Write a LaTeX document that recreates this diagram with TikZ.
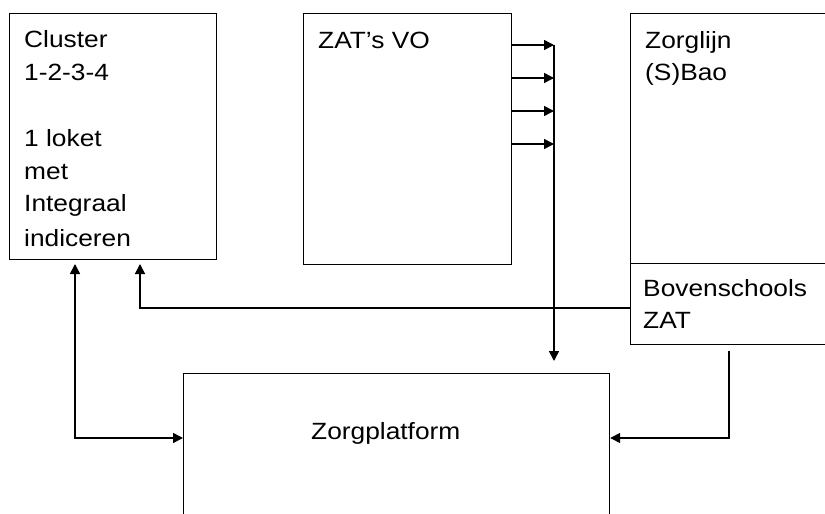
\documentclass[tikz,border=0pt]{standalone}
\usepackage{fontspec}
\setmainfont{Liberation Sans}[FakeStretch=1.12]
\usetikzlibrary{arrows.meta}
\begin{document}
\begin{tikzpicture}[x=1pt,y=-1pt,
  box/.style={draw, line width=1.2pt, inner sep=0pt, anchor=north west},
  lbl/.style={anchor=base west, inner sep=0pt, font=\fontsize{23.5}{28}\selectfont},
  arr/.style={line width=1.5pt, -{Triangle[length=10pt,width=10pt]}},
  arrboth/.style={line width=1.5pt, {Triangle[length=10pt,width=10pt]}-{Triangle[length=10pt,width=10pt]}}]
\useasboundingbox (0,0) rectangle (825,514);
\clip (0,0) rectangle (825,514);
% boxes
\node[box, minimum width=207pt, minimum height=246pt] (cluster) at (9,13) {};
\node[box, minimum width=208pt, minimum height=251pt] (zat) at (303,13) {};
\node[box, minimum width=205pt, minimum height=250pt] (zorg) at (630,13) {};
\node[box, minimum width=205pt, minimum height=81pt] (bov) at (630,263) {};
\node[box, minimum width=426pt, minimum height=160pt] (plat) at (183,373) {};
% texts
\node[lbl] (t1) at (24,47) {Cluster};
\node[lbl] (t2) at (24,80) {1-2-3-4};
\node[lbl] (t3) at (24,146) {1 loket};
\node[lbl] (t4) at (24,179) {met};
\node[lbl] (t5) at (24,211) {Integraal};
\node[lbl] (t6) at (24,246) {indiceren};
\node[lbl] (t7) at (318,48) {ZAT’s VO};
\node[lbl] (t8) at (645,48) {Zorglijn};
\node[lbl] (t9) at (645,80) {(S)Bao};
\node[lbl] (t10) at (643,296) {Bovenschools};
\node[lbl] (t11) at (643,328) {ZAT};
\node[lbl] (t12) at (311,439) {Zorgplatform};
% coordinates
\coordinate (b1) at (554,45);
\coordinate (b2) at (554,78);
\coordinate (b3) at (554,111);
\coordinate (b4) at (554,144);
\coordinate (pin) at (554,361);
\coordinate (c1) at (75,264);
\coordinate (c2) at (140,264);
\coordinate (b5) at (729,351);
% connectors
\draw[arr] ([yshift=-32pt]zat.north east) -- (b1);
\draw[arr] ([yshift=-65pt]zat.north east) -- (b2);
\draw[arr] ([yshift=-98pt]zat.north east) -- (b3);
\draw[arr] ([yshift=-131pt]zat.north east) -- (b4);
\draw[arr] (b1) -- (pin);
\draw[arr] ([yshift=-45pt]bov.north west) -| (c2);
\draw[arrboth] (c1) |- ([yshift=-65pt]plat.north west);
\draw[arr] (b5) |- ([yshift=-65pt]plat.north east);
\end{tikzpicture}
\end{document}
